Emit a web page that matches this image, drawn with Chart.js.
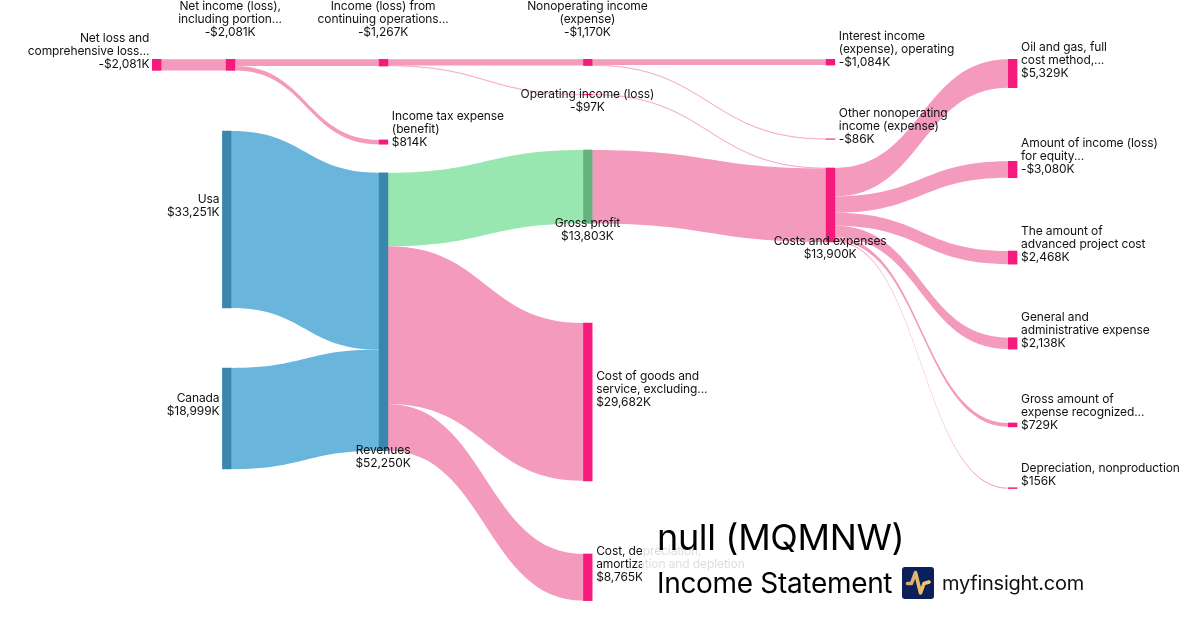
<!DOCTYPE html>
<html><head><meta charset="utf-8">
<script src="https://cdn.jsdelivr.net/npm/chart.js@4/dist/chart.umd.js"></script>
<style>
html,body{margin:0;padding:0;background:#fff;width:1200px;height:630px;overflow:hidden;font-family:Inter,sans-serif}
#c{position:absolute;left:0;top:0;width:1200px;height:630px}
#badge{position:absolute;left:642px;top:512px;width:470px;height:98px;background:rgba(255,255,255,.85)}
.t{position:absolute;white-space:nowrap;color:#000;line-height:1}
</style></head><body>
<canvas id="c" width="1200" height="630"></canvas>
<div id="badge"></div>
<div class="t" style="left:657px;top:519px;font-size:36px;letter-spacing:-0.35px">null (MQMNW)</div>
<div class="t" style="left:657px;top:569px;font-size:28px;letter-spacing:-0.32px">Income Statement</div>
<svg style="position:absolute;left:902px;top:567px" width="32" height="32" viewBox="0 0 32 32">
<defs><linearGradient id="g" x1="0" x2="1" y1="0" y2="0"><stop offset="0" stop-color="#d6a67c"/><stop offset="1" stop-color="#f5ca62"/></linearGradient></defs>
<rect width="32" height="32" rx="3" fill="#0b1f5a"/>
<path d="M5.5 16.5H9.5L13.5 5.5L18.5 26L22 16.5L27 15" fill="none" stroke="url(#g)" stroke-width="3.6" stroke-linecap="round" stroke-linejoin="round"/>
</svg>
<div class="t" style="left:942px;top:573px;font-size:20px;letter-spacing:-0.25px;color:#111">myfinsight.com</div>
<script>
// ---- data, in $K ----
const nodeNames = [
  ["Net loss and","comprehensive loss..."],
  ["Net income (loss),","including portion..."],
  ["Income (loss) from","continuing operations..."],
  ["Nonoperating income","(expense)"],
  ["Interest income","(expense), operating"],
  ["Other nonoperating","income (expense)"],
  ["Income tax expense","(benefit)"],
  ["Operating income (loss)"],
  ["Usa"],
  ["Canada"],
  ["Revenues"],
  ["Gross profit"],
  ["Cost of goods and","service, excluding..."],
  ["Cost, depreciation,","amortization and depletion"],
  ["Costs and expenses"],
  ["Oil and gas, full","cost method,..."],
  ["Amount of income (loss)","for equity..."],
  ["The amount of","advanced project cost"],
  ["General and","administrative expense"],
  ["Gross amount of","expense recognized..."],
  ["Depreciation, nonproduction"]
];
const nodeValues = [2081,2081,1267,1170,1084,86,814,97,33251,18999,52250,13803,29682,8765,13900,5329,3080,2468,2138,729,156];
const nodeValueLabels = ["-$2,081K","-$2,081K","-$1,267K","-$1,170K","-$1,084K","-$86K","$814K","-$97K","$33,251K","$18,999K","$52,250K","$13,803K","$29,682K","$8,765K","$13,900K","$5,329K","-$3,080K","$2,468K","$2,138K","$729K","$156K"];
const linkSources = [0,1,1,2,2,3,3,7,8,9,10,10,10,11,14,14,14,14,14,14];
const linkTargets = [1,2,6,3,7,4,5,14,10,10,11,12,13,14,15,16,17,18,19,20];
const linkValues  = [2081,1267,814,1170,97,1084,86,97,33251,18999,13803,29682,8765,13803,5329,3080,2468,2138,729,156];

// ---- layout, in scale units: column centre on x, distance from the top in $K on y ----
const nodeColumns = [156.7,230.5,383.5,587.8,830.5,830.5,383.5,587.8,226.8,226.8,383.5,587.8,587.8,587.8,830.5,1012.7,1012.7,1012.7,1012.7,1012.7,1012.7];
const nodeOffsets = [11150,11150,11150,11150,11150,26100,26300,17730,24630,69180,32470,28200,60720,104150,31580,11150,30330,47190,63490,79520,91690];
const labelSides  = ["left","above","above","above","right","right","right","below","left","left","below","below","right","right","below","right","right","right","right","right","right"];
const nodeKinds   = ["cost","cost","cost","cost","cost","cost","cost","cost","rev","rev","rev","gain","cost","cost","cost","cost","cost","cost","cost","cost","cost"];
const nodeColors  = {cost:"#f61a7d",rev:"#3a86ad",gain:"#66b27f"};
const ribbonColors= {cost:"#f49abc",rev:"#69b5db",gain:"#98e6b0"};
const linkKinds   = ["cost","cost","cost","cost","cost","cost","cost","cost","rev","rev","gain","cost","cost","cost","cost","cost","cost","cost","cost","cost"];

class Ribbon extends Chart.Element {
  draw(ctx){
    const {x0,x1,t0,b0,t1,b1,color}=this, m=(x0+x1)/2;
    ctx.save();ctx.fillStyle=color;ctx.beginPath();
    ctx.moveTo(x0,t0);ctx.bezierCurveTo(m,t0,m,t1,x1,t1);
    ctx.lineTo(x1,b1);ctx.bezierCurveTo(m,b1,m,b0,x0,b0);
    ctx.closePath();ctx.fill();
    if(b0-t0<0.6){ctx.strokeStyle=color;ctx.lineWidth=0.35;ctx.stroke();}
    ctx.restore();
  }
}
Ribbon.id="ribbon";Ribbon.defaults={};
class RibbonController extends Chart.DatasetController {
  update(){
    const meta=this._cachedMeta,{xScale:xs,yScale:ys}=meta,rows=this.getDataset().data,half=this.getDataset().nodeWidth/2;
    const out=nodeValues.map(()=>0),inn=nodeValues.map(()=>0);
    meta.data.forEach((el,i)=>{
      const r=rows[i];
      const a=nodeOffsets[r.source]+out[r.source],b=nodeOffsets[r.target]+inn[r.target];
      out[r.source]+=r.flow;inn[r.target]+=r.flow;
      Object.assign(el,{
        x0:xs.getPixelForValue(nodeColumns[r.source])+half,
        x1:xs.getPixelForValue(nodeColumns[r.target])-half,
        t0:ys.getPixelForValue(a),b0:ys.getPixelForValue(a+r.flow),
        t1:ys.getPixelForValue(b),b1:ys.getPixelForValue(b+r.flow),
        color:r.color
      });
      el.x=(el.x0+el.x1)/2;el.y=(el.t0+el.b1)/2;
    });
  }
}
RibbonController.id="ribbon";
RibbonController.defaults={dataElementType:"ribbon",datasetElementType:false};
Chart.register(Ribbon,RibbonController);

const LINE=13,GAP=4;
const nodeLabels={
  id:"nodeLabels",
  afterDraw(chart){
    const {ctx,scales:{x,y}}=chart,half=8.7/2;
    ctx.save();ctx.font="12px Inter";ctx.letterSpacing="-0.1px";ctx.fillStyle="#111";ctx.textBaseline="middle";
    nodeNames.forEach((name,i)=>{
      const lines=[...name,nodeValueLabels[i]],side=labelSides[i],cx=x.getPixelForValue(nodeColumns[i]);
      const top=y.getPixelForValue(nodeOffsets[i]),bot=y.getPixelForValue(nodeOffsets[i]+nodeValues[i]),mid=(top+bot)/2;
      let lx,ly;
      if(side==="right"||side==="left"){
        ctx.textAlign=side==="right"?"left":"right";
        lx=side==="right"?cx+half+GAP:cx-half-GAP+1;
        ly=mid-(lines.length===3?2*LINE:LINE+7);
      }else{
        ctx.textAlign="center";lx=cx-0.4;
        ly=side==="below"?bot-0.5:6.5;
      }
      lines.forEach((t,k)=>ctx.fillText(t,lx,ly+k*LINE));
    });
    ctx.restore();
  }
};

new Chart(document.getElementById("c"),{
  type:"bar",
  data:{datasets:[
    {type:"ribbon",order:2,nodeWidth:8.7,
     data:linkValues.map((v,i)=>({source:linkSources[i],target:linkTargets[i],flow:v,x:nodeColumns[linkSources[i]],y:nodeOffsets[linkSources[i]],color:ribbonColors[linkKinds[i]]}))},
    {type:"bar",order:1,barThickness:8.7,borderWidth:0,
     data:nodeValues.map((v,i)=>({x:nodeColumns[i],y:[nodeOffsets[i],nodeOffsets[i]+v]})),
     backgroundColor:nodeKinds.map(k=>nodeColors[k])}
  ]},
  options:{
    responsive:false,animation:false,events:[],
    layout:{padding:0},
    plugins:{legend:{display:false},tooltip:{enabled:false},title:{display:false}},
    scales:{
      x:{type:"linear",min:0,max:1200,display:false,offset:false},
      y:{type:"linear",min:0,max:118440,reverse:true,display:false}
    }
  },
  plugins:[nodeLabels]
});
</script>
</body></html>
